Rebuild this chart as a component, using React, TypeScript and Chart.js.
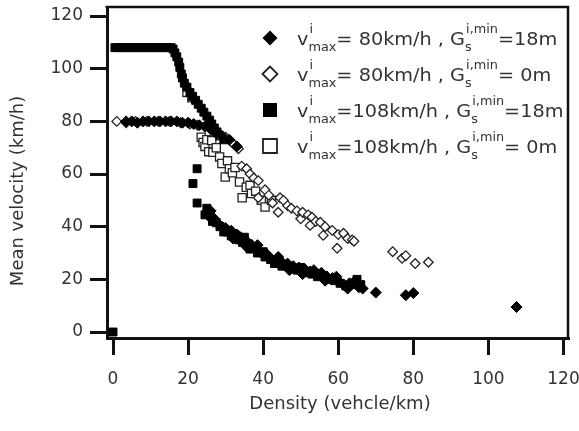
import React, { useEffect, useRef } from "react";
import { Chart, registerables } from "chart.js";

Chart.register(...registerables);

// ---- axis ticks ----
const xTicks = [0, 20, 40, 60, 80, 100, 120];
const yTicks = [0, 20, 40, 60, 80, 100, 120];

// ---- series: vmax = 80 km/h, Gs,min = 18 m (filled diamond) ----
const v80g18X = [3.5, 5, 6.5, 8, 9.5, 11, 12.5, 14, 15.5, 17, 18.5, 20, 21.5, 23, 24.5, 26, 27.5, 29, 31, 33,
  26, 25.5, 27, 28, 29, 30, 31.5, 32, 33, 34, 35, 35.5, 36, 37, 38, 38.5, 39.5, 41, 42, 43.5, 44, 45, 46.5, 47, 48, 49.5, 50.5, 51, 52.5, 53.5, 54, 55.5, 56.5, 57, 58.5, 59.5, 60, 61.5, 62.5, 63, 64.5, 65.5, 66.5, 70, 78, 80, 107.5];
const v80g18Y = [80, 80, 79.5, 80, 80, 80, 80, 80, 80, 80, 79.5, 79.5, 79, 78.5, 78, 77, 75.5, 74.5, 73, 70.5,
  46, 44, 43, 41, 40, 39.5, 38.5, 35.5, 37, 36, 35, 32.5, 34, 33, 31, 33, 30, 29.5, 28, 27.5, 28.5, 26.5, 26, 23.5, 25, 24.5, 22, 24, 23, 23.5, 22, 22.5, 19.5, 21, 20.5, 21, 19.5, 18, 16.5, 18.5, 19.5, 17, 16.5, 15, 14, 14.8, 9.5];

// ---- series: vmax = 80 km/h, Gs,min = 0 m (hollow diamond) ----
const v80g0X = [1, 3.5, 6, 9, 12, 15, 18, 20.5, 22.5, 24.5, 26.5, 28, 30, 31, 32, 33.4, 34.3, 35.6, 36.5, 37.5, 38.7, 38.7, 40.5, 41.5, 42.5, 44, 44.5, 45.4, 46.5, 47.5, 49, 50, 50.5, 52, 52.5, 53, 54, 55.2, 56, 56.5, 58.4, 59.7, 60, 61.4, 62.5, 63.7, 64.2, 74.5, 77, 78, 80.5, 84];
const v80g0Y = [80, 79.5, 80, 80, 80, 80, 79.5, 79, 78.5, 78, 76.5, 75, 74, 73, 71.5, 69.6, 63, 62, 60, 58.5, 57.5, 51, 54, 52, 49, 45.5, 51, 50, 48, 47, 46, 43, 45.5, 44.5, 40.5, 43.6, 42, 41.7, 36.7, 40, 38.6, 31.8, 37, 37.5, 35.5, 35, 34.5, 30.5, 28, 29, 26, 26.5];

// ---- series: vmax = 108 km/h, Gs,min = 18 m (filled square) ----
const v108g18X = [0.5, 1.5, 2.5, 3.5, 4.5, 5.5, 6.5, 7.5, 8.5, 9.5, 10.5, 11.5, 12.5, 13.5, 14.5, 15.5,
  16, 16.5, 17, 17.5, 17.8, 18.2, 18.5, 19, 19.7, 20.5, 21.2, 22, 22.7, 23.5, 24.2, 25, 25.7, 26.3, 27, 27.7, 28.5, 29.5,
  22.4, 21.3, 22.4,
  25, 24.5, 26, 26.5, 27.5, 28.5, 29.5, 30.5, 31.5, 32.5, 33.5, 34.5, 35, 36, 36.5, 37.5, 38.5, 40, 40.5, 42, 43, 44, 45, 46, 47.5, 49, 50, 51.5, 53, 54.5, 56, 57.5, 59, 60.5, 62, 64, 65, 66,
  0];
const v108g18Y = [108, 108, 108, 108, 108, 108, 108, 108, 108, 108, 108, 108, 108, 108, 108, 108,
  107.5, 106, 104.5, 102.5, 100.5, 98, 96.5, 94.5, 93, 91, 89.5, 88, 86.5, 85, 83.5, 82, 80.5, 79, 77.5, 76, 74.5, 73,
  62, 56.4, 49,
  47, 44.5, 45, 42, 41.5, 40, 38, 38, 36.5, 37, 35, 34, 36, 33.5, 31.5, 32, 30, 30.5, 28.5, 27.5, 26, 27, 25, 25.5, 24, 23.5, 24.5, 22.5, 22, 21, 21.5, 20, 19.5, 18.5, 17.5, 18, 20, 18,
  0];

// ---- series: vmax = 108 km/h, Gs,min = 0 m (hollow square) ----
const v108g0X = [19.7, 21, 23.5, 24, 24.5, 25, 25.5, 26.3, 26.6, 27.5, 28.4, 29, 29.9, 30.5, 31, 31.8, 32.5, 33.7, 34.4, 35.5, 36.5, 36.9, 38, 39.5, 40.5, 42.2];
const v108g0Y = [91, 89, 74, 72, 70.5, 73, 68.5, 72.7, 68.3, 70, 66.5, 64, 58.9, 65, 62, 60.5, 62.5, 57, 51, 55, 55.7, 52.6, 53.5, 50, 47.5, 50];

// ---- legend text ----
const legendVmax = ["= 80km/h , G", "= 80km/h , G", "=108km/h , G", "=108km/h , G"];
const legendGap = ["=18m", "= 0m", "=18m", "= 0m"];
const legendMarkers = ["diamondFilled", "diamondHollow", "squareFilled", "squareHollow"];

const xTitle = "Density (vehcle/km)";
const yTitle = "Mean velocity (km/h)";

const FONT = "'DejaVu Sans', sans-serif";
const TEXT = "#333";
const INK = "#111";

function zip(xs: number[], ys: number[]) {
  return xs.map((x, i) => ({ x, y: ys[i] }));
}

function drawMarker(ctx: CanvasRenderingContext2D, kind: string, x: number, y: number) {
  ctx.save();
  ctx.beginPath();
  if (kind.startsWith("diamond")) {
    const r = 7.5;
    ctx.moveTo(x - r, y);
    ctx.lineTo(x, y - r);
    ctx.lineTo(x + r, y);
    ctx.lineTo(x, y + r);
    ctx.closePath();
  } else {
    const h = 7;
    ctx.rect(x - h, y - h, 2 * h, 2 * h);
  }
  if (kind.endsWith("Filled")) {
    ctx.fillStyle = "#000";
    ctx.fill();
  } else {
    ctx.fillStyle = "#fff";
    ctx.fill();
    ctx.lineWidth = 1.8;
    ctx.strokeStyle = "#222";
    ctx.stroke();
  }
  ctx.restore();
}

const overlayPlugin = {
  id: "overlay",
  afterDraw(chart: any) {
    const ctx: CanvasRenderingContext2D = chart.ctx;
    const { left, top, right, bottom } = chart.chartArea;
    ctx.save();
    // top & right frame
    ctx.strokeStyle = INK;
    ctx.lineWidth = 2.5;
    ctx.beginPath();
    ctx.moveTo(left - 1.5, top);
    ctx.lineTo(right, top);
    ctx.lineTo(right, bottom + 1.5);
    ctx.stroke();

    // axis titles
    ctx.fillStyle = TEXT;
    ctx.font = `18px ${FONT}`;
    ctx.textAlign = "center";
    ctx.textBaseline = "middle";
    ctx.fillText(xTitle, 340, 404);
    ctx.save();
    ctx.translate(18, 191);
    ctx.rotate(-Math.PI / 2);
    ctx.fillText(yTitle, 0, 0);
    ctx.restore();

    // legend
    const main = `18px ${FONT}`;
    const small = `12px ${FONT}`;
    ctx.textAlign = "left";
    ctx.textBaseline = "alphabetic";
    legendMarkers.forEach((kind, i) => {
      const cy = 38 + i * 36;
      drawMarker(ctx, kind, 270, cy);
      const base = cy + 6.5;
      ctx.save();
      ctx.translate(297, 0);
      ctx.scale(1.07, 1);
      let x = 0;
      ctx.fillStyle = TEXT;
      ctx.font = main;
      ctx.fillText("v", x, base);
      x += ctx.measureText("v").width;
      ctx.font = small;
      ctx.fillText("i", x + 1, base - 12);
      ctx.fillText("max", x, base + 6);
      x += Math.max(ctx.measureText("max").width, ctx.measureText("i").width + 1);
      ctx.font = main;
      ctx.fillText(legendVmax[i], x, base);
      x += ctx.measureText(legendVmax[i]).width;
      ctx.font = small;
      ctx.fillText("s", x, base + 6);
      ctx.fillText("i,min", x + 1, base - 12);
      x += Math.max(ctx.measureText("s").width, ctx.measureText("i,min").width + 1);
      ctx.font = main;
      ctx.fillText(legendGap[i], x, base);
      ctx.restore();
    });
    ctx.restore();
  },
};

export default function App() {
  const ref = useRef<HTMLCanvasElement>(null);
  useEffect(() => {
    document.body.style.margin = "0";
    const canvas = ref.current!;
    const filled = { pointBackgroundColor: "#000", pointBorderColor: "#000", pointBorderWidth: 1 };
    const hollow = { pointBackgroundColor: "#fff", pointBorderColor: "#222", pointBorderWidth: 1.3 };
    const chart = new Chart(canvas, {
      type: "scatter",
      data: {
        datasets: [
          { label: "v80g18", data: zip(v80g18X, v80g18Y), pointStyle: "rectRot", pointRadius: 5.5, ...filled, clip: false },
          { label: "v80g0", data: zip(v80g0X, v80g0Y), pointStyle: "rectRot", pointRadius: 4.8, ...hollow, clip: false },
          { label: "v108g18", data: zip(v108g18X, v108g18Y), pointStyle: "rect", pointRadius: 5.6, ...filled, clip: false },
          { label: "v108g0", data: zip(v108g0X, v108g0Y), pointStyle: "rect", pointRadius: 5.8, ...hollow, clip: false },
        ] as any,
      },
      options: {
        animation: false,
        responsive: false,
        events: [],
        layout: { padding: { top: 6, right: 11, left: 0, bottom: 0 } },
        plugins: { legend: { display: false }, tooltip: { enabled: false } },
        scales: {
          x: {
            type: "linear",
            min: -1.6,
            max: 121.2,
            afterBuildTicks: (s: any) => {
              s.ticks = xTicks.map((v) => ({ value: v }));
            },
            afterFit: (s: any) => {
              s.height = 93;
              s.paddingLeft = 0;
              s.paddingRight = 0;
            },
            grid: { display: true, drawOnChartArea: false, drawTicks: true, tickLength: 17, tickWidth: 3, tickColor: INK, lineWidth: 3, color: INK },
            border: { display: true, width: 3, color: INK },
            ticks: { color: TEXT, font: { family: FONT, size: 17 }, padding: 14, maxRotation: 0 },
          },
          y: {
            type: "linear",
            min: -2.27,
            max: 123.4,
            afterBuildTicks: (s: any) => {
              s.ticks = yTicks.map((v) => ({ value: v }));
            },
            afterFit: (s: any) => {
              s.width = 107;
              s.paddingTop = 0;
              s.paddingBottom = 0;
            },
            grid: { display: true, drawOnChartArea: false, drawTicks: true, tickLength: 17, tickWidth: 3, tickColor: INK, lineWidth: 3, color: INK },
            border: { display: true, width: 3, color: INK },
            ticks: { color: TEXT, font: { family: FONT, size: 17 }, padding: 7 },
          },
        },
      } as any,
      plugins: [overlayPlugin],
    });
    return () => chart.destroy();
  }, []);
  return <canvas ref={ref} width={579} height={431} style={{ display: "block" }} />;
}
